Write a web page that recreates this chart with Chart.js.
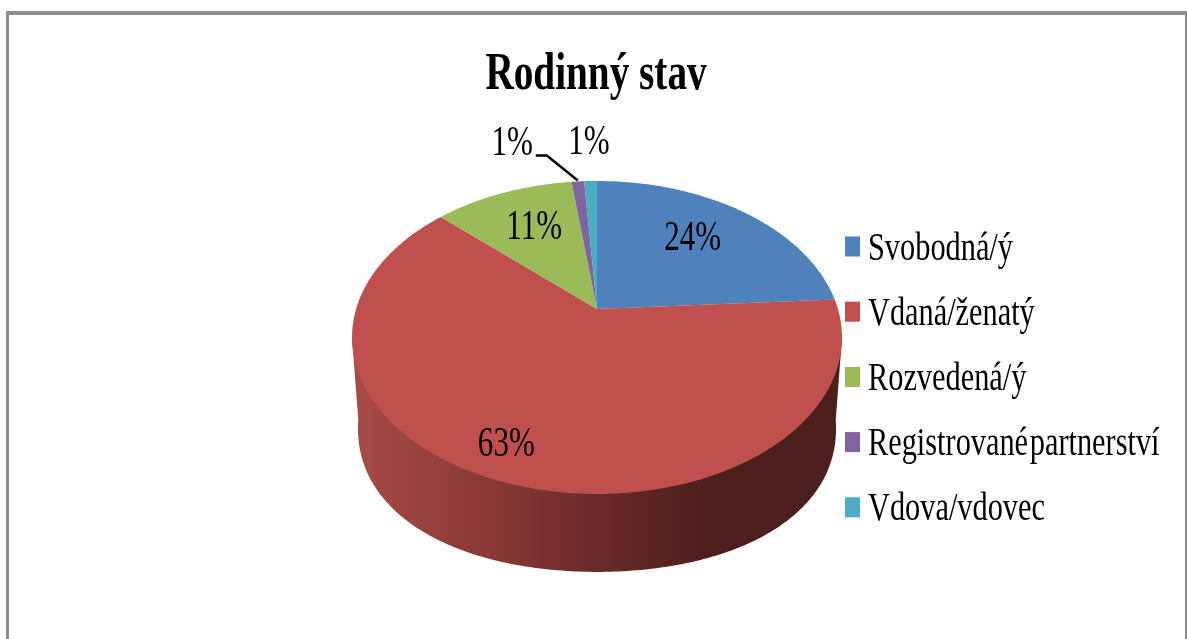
<!DOCTYPE html>
<html>
<head>
<meta charset="utf-8">
<style>html,body{margin:0;padding:0;background:#fff;overflow:hidden}canvas{display:block;filter:blur(0.55px)}</style>
<script src="https://cdn.jsdelivr.net/npm/chart.js@4"></script>
</head>
<body>
<canvas id="c" width="1187" height="639"></canvas>
<script>
const chartTitle = 'Rodinný stav';
const categories = ['Svobodná/ý', 'Vdaná/ženatý', 'Rozvedená/ý', 'Registrované partnerství', 'Vdova/vdovec'];
const values = [24, 63, 11, 1, 1];
const colors = ['#4F81BD', '#C0504D', '#9BBB59', '#8064A2', '#4BACC6'];

// perspective view of the pie disc
const view = {x0: 597, y0: 309, a: 240.9, b: 151.3, p: -0.182, baseScale: 0.97, baseY: 392.5, bulge: 0.035};
const project = (u, v) => { const w = 1 + view.p * v; return [view.x0 + view.a * u / w, view.y0 + view.b * v / w]; };
const projectBase = (u, v) => {
  const w = 1 + view.p * v;
  const r = view.baseScale * (1 + view.bulge * 4 * u * u * v * v);
  return [view.x0 + r * view.a * u / w, view.baseY + r * view.b * v / w];
};

// label placement: radial factor on the slice's mid angle, plus a small nudge
const labelStyle = [
  {f: 0.70, dx: -10, dy: -2}, {f: 0.80, dx: -15, dy: 1}, {f: 0.70, dx: 6, dy: 1},
  {f: 1.30, dx: -61, dy: -10}, {f: 1.30, dx: 0, dy: -10}
];
const xStretch = 0.74;

function drawText(ctx, text, x, y, font, align, wordGap) {
  ctx.save();
  ctx.translate(x, y);
  ctx.scale(xStretch, 1);
  ctx.font = font;
  ctx.fillStyle = '#000';
  ctx.textAlign = align;
  ctx.textBaseline = 'alphabetic';
  if (wordGap) ctx.wordSpacing = wordGap;
  ctx.fillText(text, 0, 0);
  ctx.restore();
}

const pie3d = {
  id: 'pie3d',
  beforeDatasetDraw(chart) {
    const ctx = chart.ctx;
    const arcs = chart.getDatasetMeta(0).data;
    // frame
    ctx.fillStyle = '#8c8c8c';
    ctx.fillRect(6, 11, 1181, 4);
    ctx.fillRect(6, 11, 3, 628);
    ctx.fillRect(1185, 11, 2, 628);
    // side wall
    let minT = 0, maxT = 0, minX = 1e9, maxX = -1e9;
    for (let i = 0; i <= 720; i++) {
      const t = i / 720 * Math.PI * 2;
      const x = project(Math.cos(t), Math.sin(t))[0];
      if (x < minX) { minX = x; minT = t; }
      if (x > maxX) { maxX = x; maxT = t; }
    }
    const g = ctx.createLinearGradient(minX, 0, maxX, 0);
    g.addColorStop(0, '#A84B47');
    g.addColorStop(0.25, '#8C3B37');
    g.addColorStop(0.5, '#6A2A2A');
    g.addColorStop(0.74, '#4C1E1C');
    g.addColorStop(1, '#4C1E1C');
    ctx.beginPath();
    let pt = project(Math.cos(maxT), Math.sin(maxT));
    ctx.moveTo(pt[0], pt[1]);
    for (let i = 0; i <= 180; i++) {
      const t = maxT + (minT - maxT) * i / 180;
      const b = projectBase(Math.cos(t), Math.sin(t));
      ctx.lineTo(b[0], b[1]);
    }
    pt = project(Math.cos(minT), Math.sin(minT));
    ctx.lineTo(pt[0], pt[1]);
    ctx.closePath();
    ctx.fillStyle = g;
    ctx.fill();
    // top face, from the angles computed by the library
    arcs.forEach((arc, i) => {
      ctx.beginPath();
      ctx.moveTo(view.x0, view.y0);
      const n = Math.max(4, Math.ceil((arc.endAngle - arc.startAngle) * 60));
      for (let k = 0; k <= n; k++) {
        const t = arc.startAngle + (arc.endAngle - arc.startAngle) * k / n;
        const q = project(Math.cos(t), Math.sin(t));
        ctx.lineTo(q[0], q[1]);
      }
      ctx.closePath();
      ctx.fillStyle = colors[i];
      ctx.fill();
    });
    return false;
  },
  afterDraw(chart) {
    const ctx = chart.ctx;
    const arcs = chart.getDatasetMeta(0).data;
    const serif = '"Liberation Serif", serif';
    drawText(ctx, chartTitle, 596, 89, 'bold 53px ' + serif, 'center');
    // data labels
    arcs.forEach((arc, i) => {
      const mid = (arc.startAngle + arc.endAngle) / 2;
      const s = labelStyle[i];
      const q = project(s.f * Math.cos(mid), s.f * Math.sin(mid));
      const cx = q[0] + s.dx;
      const cy = q[1] + s.dy;
      drawText(ctx, values[i] + '%', cx, cy + 14, '42px ' + serif, 'center');
    });
    // leader line to the purple slice
    const la = arcs[3];
    const lm = (la.startAngle + la.endAngle) / 2;
    const e = project(Math.cos(lm), Math.sin(lm));
    ctx.beginPath();
    ctx.moveTo(e[0] - 42, e[1] - 26);
    ctx.lineTo(e[0] - 31, e[1] - 26);
    ctx.lineTo(e[0] + 0, e[1] - 1);
    ctx.strokeStyle = '#000';
    ctx.lineWidth = 2.5;
    ctx.stroke();
    // legend
    categories.forEach((name, i) => {
      const cy = 246.5 + i * 65.2;
      ctx.fillStyle = colors[i];
      ctx.fillRect(845, cy - 10, 15, 20);
      drawText(ctx, name, 868, cy + 13, '41px ' + serif, 'left', '-8px');
    });
  }
};

new Chart(document.getElementById('c'), {
  type: 'pie',
  data: {labels: categories, datasets: [{data: values, backgroundColor: colors, borderWidth: 0}]},
  options: {
    responsive: false,
    animation: false,
    plugins: {legend: {display: false}, title: {display: false}, tooltip: {enabled: false}}
  },
  plugins: [pie3d]
});
</script>
</body>
</html>
